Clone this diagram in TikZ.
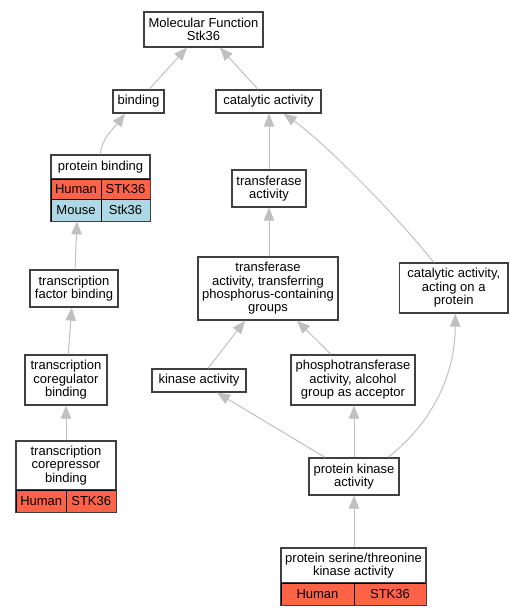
\documentclass[tikz,border=0pt]{standalone}
\usepackage{fontspec}
\setmainfont{Liberation Sans}
\usepackage{tikz}
\usetikzlibrary{arrows.meta}
\definecolor{tomato}{HTML}{FF6347}
\definecolor{lblue}{HTML}{ADD8E6}
\definecolor{edgegray}{HTML}{C0C0C0}
\definecolor{boxgray}{HTML}{404040}
\begin{document}
\begin{tikzpicture}[x=1pt, y=1pt,
  term/.style 2 args={draw=boxgray, line width=1.3pt, fill=white, align=center, inner sep=0pt,
    minimum width=#1, minimum height=#2, font=\fontsize{13}{13.4}\selectfont},
  cell/.style n args={3}{draw=black, line width=0.8pt, fill=#3, inner sep=0pt,
    minimum width=#1, minimum height=#2, font=\fontsize{13}{13.4}\selectfont},
  outer/.style={draw=boxgray, line width=1.3pt},
  isa/.style={draw=edgegray, line width=1pt, -{Triangle[length=13pt,width=10.5pt]}}]
\useasboundingbox (0,0) rectangle (523,-616);

\node[term={119pt}{35pt}] (mf) at (203.5,-29.5) {Molecular Function\\Stk36};
\node[term={51pt}{23pt}] (bind) at (138.5,-101.5) {binding};
\node[term={105pt}{23pt}] (cat) at (268.5,-101.5) {catalytic activity};

\node[term={99pt}{24pt}] (pb) at (100.5,-167) {protein binding};
\node[cell={50pt}{20pt}{tomato}] (pbhu) at (76,-189) {Human};
\node[cell={49pt}{20pt}{tomato}] (pbhs) at (125.5,-189) {STK36};
\node[cell={50pt}{22pt}{lblue}] (pbmo) at (76,-210) {Mouse};
\node[cell={49pt}{22pt}{lblue}] (pbms) at (125.5,-210) {Stk36};
\draw[outer] (pb.north west) rectangle (pbms.south east);

\node[term={74pt}{37pt}] (tra) at (269,-188.5) {transferase\\activity};
\node[term={140pt}{63pt}] (trp) at (268,-288.5) {transferase\\activity, transferring\\phosphorus-containing\\groups};
\node[term={108.5pt}{50pt}] (cap) at (453.75,-288) {catalytic activity,\\acting on a\\protein};
\node[term={88pt}{37pt}] (tfb) at (74,-288.5) {transcription\\factor binding};
\node[term={82pt}{50pt}] (crg) at (66,-380) {transcription\\coregulator\\binding};
\node[term={94pt}{23pt}] (kin) at (199,-380.5) {kinase activity};
\node[term={124pt}{50pt}] (pho) at (353,-380) {phosphotransferase\\activity, alcohol\\group as acceptor};

\node[term={100pt}{49pt}] (crp) at (66,-465.5) {transcription\\corepressor\\binding};
\node[cell={50.5pt}{22pt}{tomato}] (crphu) at (41.25,-501) {Human};
\node[cell={49.5pt}{22pt}{tomato}] (crphs) at (91.25,-501) {STK36};
\draw[outer] (crp.north west) rectangle (crphs.south east);

\node[term={90pt}{37pt}] (pk) at (354,-476.5) {protein kinase\\activity};

\node[term={145pt}{35pt}] (pst) at (353.5,-565.5) {protein serine/threonine\\kinase activity};
\node[cell={73pt}{22pt}{tomato}] (psthu) at (317.5,-594) {Human};
\node[cell={72pt}{22pt}{tomato}] (pstst) at (390,-594) {STK36};
\draw[outer] (pst.north west) rectangle (pstst.south east);

\draw[isa] ([xshift=10.5pt]bind.north) -- ([xshift=-16.5pt]mf.south);
\draw[isa] ([xshift=-10.5pt]cat.north) -- ([xshift=16.5pt]mf.south);
\draw[isa] (pb.north) .. controls +(0,15) and +(-9,-12) .. ([xshift=-13.5pt]bind.south);
\draw[isa] (tra.north) -- ([xshift=0.5pt]cat.south);
\draw[isa] ([xshift=-20pt]cap.north) .. controls +(-40,50) and +(40,-28) .. ([xshift=15pt]cat.south);
\draw[isa] ([xshift=1pt]trp.north) -- (tra.south);
\draw[isa] ([xshift=1pt]tfb.north) -- ([xshift=1pt]pbmo.south);
\draw[isa] ([xshift=2.3pt]crg.north) -- ([xshift=-2.3pt]tfb.south);
\draw[isa] (crp.north) -- (crg.south);
\draw[isa] ([xshift=9pt]kin.north) -- ([xshift=-23pt]trp.south);
\draw[isa] ([xshift=-22pt]pho.north) -- ([xshift=29pt]trp.south);
\draw[isa] ([xshift=-29pt]pk.north) -- ([xshift=18pt]kin.south);
\draw[isa] (pk.north) -- ([xshift=1pt]pho.south);
\draw[isa] ([xshift=34pt]pk.north) .. controls +(45,35) and +(0,-60) .. ([xshift=1.5pt]cap.south);
\draw[isa] ([xshift=0.5pt]pst.north) -- (pk.south);
\end{tikzpicture}
\end{document}
